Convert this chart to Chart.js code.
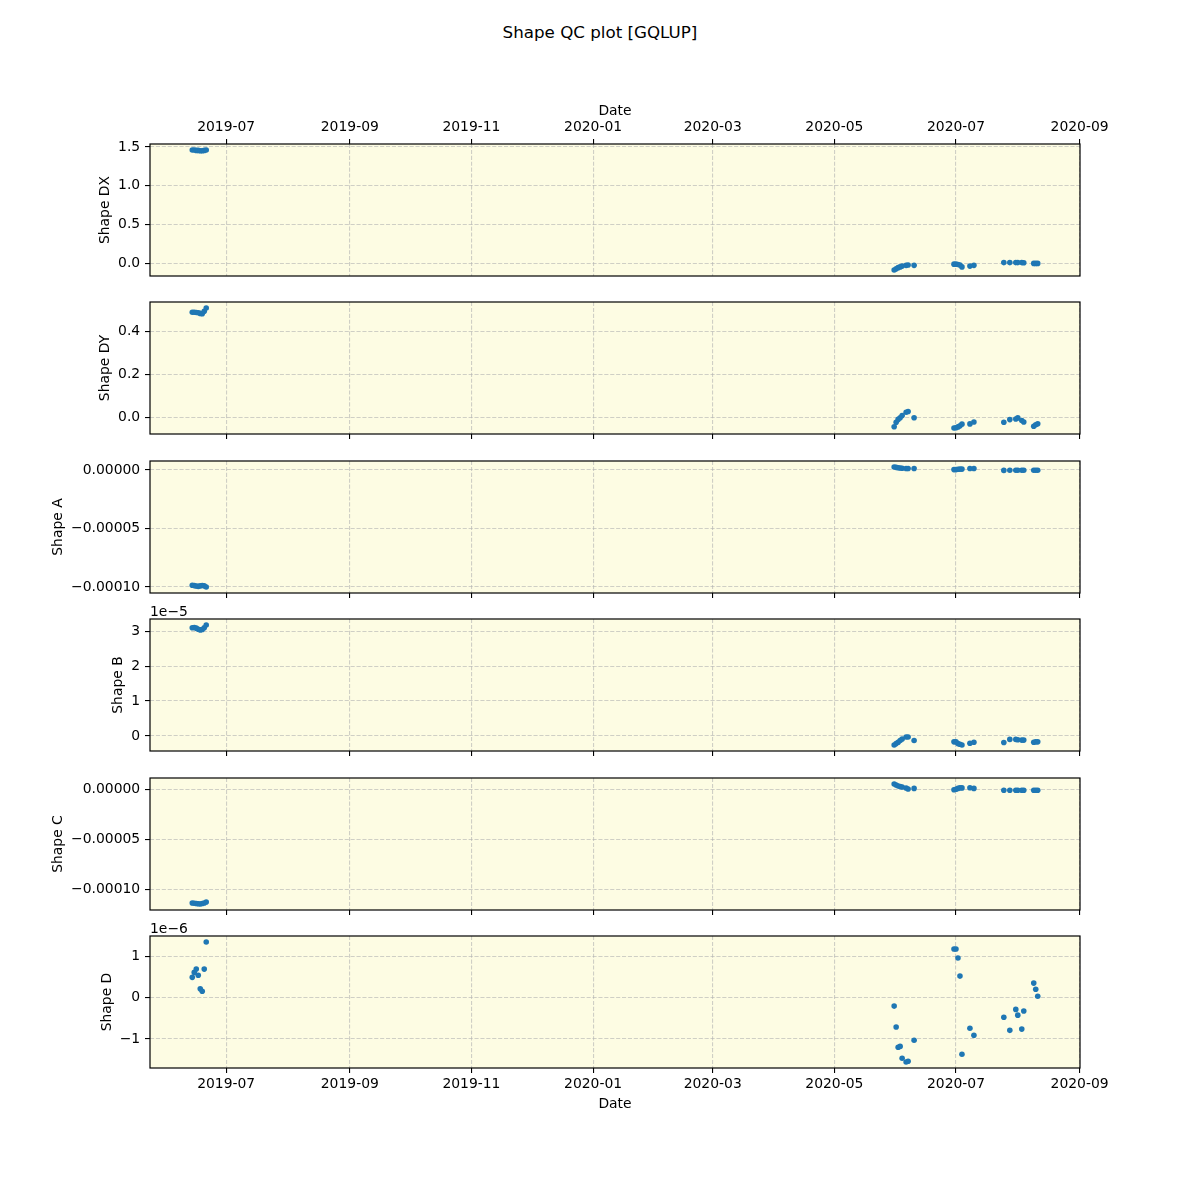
<!DOCTYPE html>
<html>
<head>
<meta charset="utf-8">
<title>Shape QC plot [GQLUP]</title>
<script src="https://cdn.jsdelivr.net/npm/chart.js"></script>
<style>
  html, body { margin: 0; padding: 0; background: #fff; }
  #figure { position: relative; width: 1200px; height: 1200px; overflow: hidden; background: #fff; }
  #figure canvas { position: absolute; left: 0; }
  #suptitle {
    position: absolute; left: 0; top: 22px; width: 1200px; line-height: 20px;
    text-align: center; font-family: "DejaVu Sans", sans-serif; font-size: 16.7px; color: #000;
  }
</style>
</head>
<body>
<div id="figure">
  <div id="suptitle">Shape QC plot [GQLUP]</div>
</div>
<script>
var dates = [
  '2019-06-14', '2019-06-15', '2019-06-16', '2019-06-17', '2019-06-18', '2019-06-19', '2019-06-20', '2019-06-21',
  '2020-05-31', '2020-06-01', '2020-06-02', '2020-06-03', '2020-06-04', '2020-06-06', '2020-06-07', '2020-06-10',
  '2020-06-30', '2020-07-01', '2020-07-02', '2020-07-03', '2020-07-04', '2020-07-08', '2020-07-10',
  '2020-07-25', '2020-07-28', '2020-07-31', '2020-08-01', '2020-08-03', '2020-08-04', '2020-08-09', '2020-08-10', '2020-08-11'
];

var shapeDX = [
  1.46, 1.46, 1.455, 1.455, 1.45, 1.45, 1.455, 1.46,
  -0.085, -0.07, -0.055, -0.045, -0.035, -0.025, -0.02, -0.025,
  -0.01, -0.01, -0.015, -0.02, -0.045, -0.035, -0.025,
  0.01, 0.01, 0.01, 0.01, 0.01, 0.008, 0.0, 0.0, 0.0
];

var shapeDY = [
  0.490, 0.490, 0.489, 0.488, 0.485, 0.483, 0.495, 0.510,
  -0.042, -0.021, -0.008, 0.0, 0.010, 0.025, 0.029, 0.0,
  -0.048, -0.047, -0.043, -0.038, -0.030, -0.029, -0.020,
  -0.021, -0.009, -0.006, -0.001, -0.013, -0.020, -0.040, -0.033, -0.028
];

var shapeA = [
  -9.85e-5, -9.88e-5, -9.92e-5, -9.95e-5, -9.90e-5, -9.87e-5, -9.90e-5, -1.00e-4,
  2.5e-6, 2.2e-6, 1.8e-6, 1.6e-6, 1.4e-6, 1.2e-6, 1.2e-6, 1.2e-6,
  0.3e-6, 0.3e-6, 0.6e-6, 0.7e-6, 0.7e-6, 1.2e-6, 1.2e-6,
  -0.4e-6, -0.3e-6, -0.3e-6, -0.3e-6, -0.3e-6, -0.3e-6, -0.3e-6, -0.3e-6, -0.3e-6
];

var shapeB = [
  3.10e-5, 3.11e-5, 3.09e-5, 3.06e-5, 3.04e-5, 3.05e-5, 3.10e-5, 3.18e-5,
  -0.26e-5, -0.22e-5, -0.18e-5, -0.13e-5, -0.09e-5, -0.03e-5, -0.03e-5, -0.13e-5,
  -0.17e-5, -0.17e-5, -0.22e-5, -0.24e-5, -0.26e-5, -0.21e-5, -0.18e-5,
  -0.19e-5, -0.10e-5, -0.10e-5, -0.11e-5, -0.12e-5, -0.12e-5, -0.18e-5, -0.17e-5, -0.17e-5
];

var shapeC = [
  -1.135e-4, -1.138e-4, -1.140e-4, -1.143e-4, -1.145e-4, -1.140e-4, -1.135e-4, -1.125e-4,
  5.7e-6, 4.7e-6, 3.7e-6, 3.2e-6, 2.7e-6, 1.7e-6, 0.7e-6, 1.3e-6,
  0.0, 0.5e-6, 1.3e-6, 2.0e-6, 1.8e-6, 2.0e-6, 1.3e-6,
  -0.5e-6, -0.5e-6, -0.5e-6, -0.5e-6, -0.5e-6, -0.5e-6, -0.5e-6, -0.5e-6, -0.5e-6
];

var shapeD = [
  0.50e-6, 0.62e-6, 0.70e-6, 0.55e-6, 0.22e-6, 0.16e-6, 0.70e-6, 1.36e-6,
  -0.20e-6, -0.71e-6, -1.20e-6, -1.18e-6, -1.47e-6, -1.56e-6, -1.54e-6, -1.03e-6,
  1.19e-6, 1.19e-6, 0.97e-6, 0.53e-6, -1.37e-6, -0.74e-6, -0.91e-6,
  -0.47e-6, -0.79e-6, -0.28e-6, -0.42e-6, -0.76e-6, -0.32e-6, 0.36e-6, 0.21e-6, 0.04e-6
];

// tick labels
var xTickLabels = ['2019-07', '2019-09', '2019-11', '2020-01', '2020-03', '2020-05', '2020-07', '2020-09'];
var dxTicks = [0, 0.5, 1.0, 1.5];
var dxTickLabels = ['0.0', '0.5', '1.0', '1.5'];
var dyTicks = [0, 0.2, 0.4];
var dyTickLabels = ['0.0', '0.2', '0.4'];
var aTicks = [-1e-4, -5e-5, 0];
var aTickLabels = ['\u22120.00010', '\u22120.00005', '0.00000'];
var bTicks = [0, 1e-5, 2e-5, 3e-5];
var bTickLabels = ['0', '1', '2', '3'];
var cTicks = [-1e-4, -5e-5, 0];
var cTickLabels = ['\u22120.00010', '\u22120.00005', '0.00000'];
var dTicks = [-1e-6, 0, 1e-6];
var dTickLabels = ['\u22121', '0', '1'];

(function() {
    'use strict';

    var BLUE = '#1f77b4';
    var FACE = 'rgb(253,252,227)';
    var GRID = 'rgba(176,176,176,0.6)';
    var FONT = '"DejaVu Sans", sans-serif';
    var FS = 13.9;

    var PLOT_LEFT = 150;
    var PLOT_RIGHT = 1080;
    var PLOT_H = 132;

    var panels = [
        { label: 'Shape DX', values: shapeDX, ticks: dxTicks, tickLabels: dxTickLabels, top: 144 },
        { label: 'Shape DY', values: shapeDY, ticks: dyTicks, tickLabels: dyTickLabels, top: 302 },
        { label: 'Shape A', values: shapeA, ticks: aTicks, tickLabels: aTickLabels, top: 461 },
        { label: 'Shape B', values: shapeB, ticks: bTicks, tickLabels: bTickLabels, top: 619, offset: '1e\u22125' },
        { label: 'Shape C', values: shapeC, ticks: cTicks, tickLabels: cTickLabels, top: 778 },
        { label: 'Shape D', values: shapeD, ticks: dTicks, tickLabels: dTickLabels, top: 936, offset: '1e\u22126' }
    ];

    var xs = dates.map(function(d) { return Date.parse(d); });
    var xTickValues = xTickLabels.map(function(l) { return Date.parse(l + '-01'); });

    // matplotlib-like 5% margins
    function padRange(arr) {
        var lo = Math.min.apply(null, arr), hi = Math.max.apply(null, arr);
        var m = (hi - lo) * 0.05;
        return [lo - m, hi + m];
    }
    var xRange = padRange(xs);

    Chart.defaults.font.family = FONT;
    Chart.defaults.font.size = FS;
    Chart.defaults.color = '#000';

    var fig = document.getElementById('figure');
    panels.forEach(buildPanel);

    /**
     * One subplot = one canvas, chart area pinned to the figure grid
     */
    function buildPanel(p, idx) {
        var isFirst = idx === 0;
        var isLast = idx === panels.length - 1;
        var above = isFirst ? 44 : 22;
        var xAxisH = isFirst ? 44 : (isLast ? 46 : 6);
        var below = isLast ? 50 : 22;

        var canvas = document.createElement('canvas');
        canvas.width = 1200;
        canvas.height = above + PLOT_H + below;
        canvas.style.top = (p.top - above) + 'px';
        fig.appendChild(canvas);

        var yRange = padRange(p.values);
        var xTicksShown = xTickValues.filter(function(v) { return v >= xRange[0] && v <= xRange[1]; });

        var decor = {
            id: 'panelDecor',
            beforeDraw: function(chart) {
                var a = chart.chartArea, ctx = chart.ctx;
                ctx.save();
                ctx.fillStyle = FACE;
                ctx.fillRect(a.left, a.top, a.right - a.left, a.bottom - a.top);
                ctx.restore();
            },
            afterDraw: function(chart) {
                var a = chart.chartArea, ctx = chart.ctx;
                ctx.save();
                ctx.strokeStyle = '#000';
                ctx.lineWidth = 1.2;
                ctx.strokeRect(a.left, a.top, a.right - a.left, a.bottom - a.top);

                // y label sits left of the widest tick label
                ctx.font = FS + 'px ' + FONT;
                var maxW = 0;
                p.tickLabels.forEach(function(t) { maxW = Math.max(maxW, ctx.measureText(t).width); });
                var xr = a.left - 5 - 4.8 - maxW - 5.6;
                ctx.translate(xr, (a.top + a.bottom) / 2);
                ctx.rotate(-Math.PI / 2);
                ctx.fillStyle = '#000';
                ctx.textAlign = 'center';
                ctx.textBaseline = 'bottom';
                ctx.fillText(p.label, 0, 0);
                ctx.restore();

                if (p.offset) {
                    ctx.save();
                    ctx.font = FS + 'px ' + FONT;
                    ctx.fillStyle = '#000';
                    ctx.textAlign = 'left';
                    ctx.textBaseline = 'alphabetic';
                    ctx.fillText(p.offset, a.left, a.top - 3);
                    ctx.restore();
                }
            }
        };

        new Chart(canvas.getContext('2d'), {
            type: 'scatter',
            data: {
                datasets: [{
                    data: xs.map(function(x, i) { return { x: x, y: p.values[i] }; }),
                    backgroundColor: BLUE,
                    borderColor: BLUE,
                    borderWidth: 0,
                    pointRadius: 2.8,
                    pointHoverRadius: 2.8
                }]
            },
            options: {
                responsive: false,
                animation: false,
                events: [],
                layout: {
                    padding: {
                        left: 0,
                        right: 1200 - PLOT_RIGHT,
                        top: isFirst ? 0 : above,
                        bottom: isFirst ? below : below - xAxisH
                    }
                },
                scales: {
                    x: {
                        type: 'linear',
                        position: isFirst ? 'top' : 'bottom',
                        min: xRange[0],
                        max: xRange[1],
                        afterBuildTicks: function(s) {
                            s.ticks = xTicksShown.map(function(v) { return { value: v }; });
                        },
                        afterFit: function(s) { s.height = xAxisH; },
                        ticks: {
                            display: isFirst || isLast,
                            autoSkip: false,
                            maxRotation: 0,
                            padding: 3,
                            callback: function(v) {
                                return xTickLabels[xTickValues.indexOf(v)];
                            }
                        },
                        grid: {
                            color: GRID,
                            lineWidth: 1.1,
                            tickLength: 5,
                            tickColor: '#000',
                            tickWidth: 1.1
                        },
                        border: { display: false, dash: [4.1, 1.8] },
                        title: {
                            display: isFirst || isLast,
                            text: 'Date',
                            padding: isFirst ? { top: 3, bottom: 0 } : { top: 0, bottom: 1 }
                        }
                    },
                    y: {
                        type: 'linear',
                        min: yRange[0],
                        max: yRange[1],
                        afterBuildTicks: function(s) {
                            s.ticks = p.ticks.map(function(v) { return { value: v }; });
                        },
                        afterFit: function(s) { s.width = PLOT_LEFT; },
                        ticks: {
                            padding: 4.8,
                            callback: function(v, i) { return p.tickLabels[i]; }
                        },
                        grid: {
                            color: GRID,
                            lineWidth: 1.1,
                            tickLength: 5,
                            tickColor: '#000',
                            tickWidth: 1.1
                        },
                        border: { display: false, dash: [4.1, 1.8] }
                    }
                },
                plugins: {
                    legend: { display: false },
                    tooltip: { enabled: false }
                }
            },
            plugins: [decor]
        });
    }
})();
</script>
</body>
</html>
